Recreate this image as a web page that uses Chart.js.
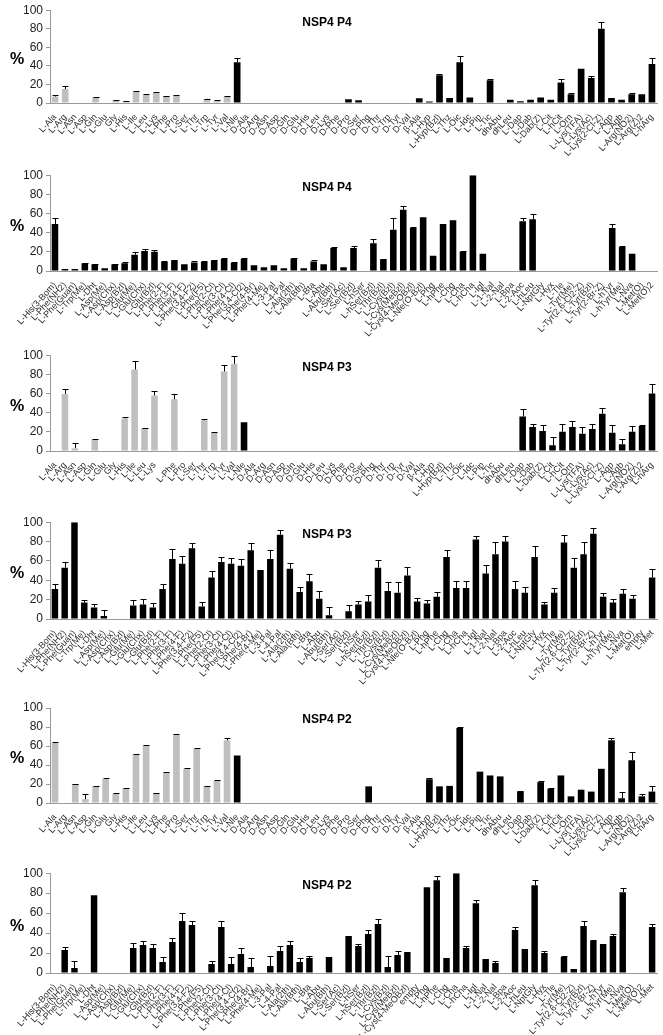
<!DOCTYPE html>
<html>
<head>
<meta charset="utf-8">
<script src="https://cdn.jsdelivr.net/npm/chart.js@4/dist/chart.umd.min.js"></script>
<style>
  html, body { margin: 0; padding: 0; background: #fff; }
  #wrap { position: relative; width: 663px; height: 1035px; }
  .panel { position: absolute; left: 0; width: 663px; }
</style>
</head>
<body>
<div id="wrap"></div>
<script>
// Category lists
const labelsNatural = ['L-Ala','L-Arg','L-Asn','L-Asp','L-Gln','L-Glu','Gly','L-His','L-Ile','L-Leu','L-Lys','L-Phe','L-Pro','L-Ser','L-Thr','L-Trp','L-Tyr','L-Val','L-Nle',
  'D-Ala','D-Arg','D-Asn','D-Asp','D-Gln','D-Glu','D-His','D-Leu','D-Lys','D-Phe','D-Pro','D-Ser','D-Phg','D-Thr','D-Trp','D-Tyr','D-Val',
  'β-Ala','L-Hyp','L-Hyp(Bzl)','L-Thz','L-Oic','L-Idc','L-Pip','L-Tic','dhAbu','dhLeu','L-Dap','L-Dab','L-Dab(Z)','L-Cit','L-hCit','L-Orn',
  'L-Lys(TFA)','L-Lys(Ac)','L-Lys(2-Cl-Z)','L-Agp','L-Agb','L-Arg(NO2)','L-Arg(Z)2','L-hArg'];
// P3 natural panel has an unlabeled slot after L-Lys
const labelsNaturalP3 = ['L-Ala','L-Arg','L-Asn','L-Asp','L-Gln','L-Glu','Gly','L-His','L-Ile','L-Leu','L-Lys','','L-Phe','L-Pro','L-Ser','L-Thr','L-Trp','L-Tyr','L-Val','L-Nle',
  'D-Ala','D-Arg','D-Asn','D-Asp','D-Gln','D-Glu','D-His','D-Leu','D-Lys','D-Phe','D-Pro','D-Ser','D-Phg','D-Thr','D-Trp','D-Tyr','D-Val',
  'β-Ala','L-Hyp','L-Hyp(Bzl)','L-Thz','L-Oic','L-Idc','L-Pip','L-Tic','dhAbu','dhLeu','L-Dap','L-Dab','L-Dab(Z)','L-Cit','L-hCit','L-Orn',
  'L-Lys(TFA)','L-Lys(Ac)','L-Lys(2-Cl-Z)','L-Agp','L-Agb','L-Arg(NO2)','L-Arg(Z)2','L-hArg'];
const labelsUnnatural = ['L-His(3-Bom)','L-Phe(NH2)','L-Phe(Guan)','L-Trp(Me)','L-Dht','L-Asp(Me)','L-Asp(Chx)','L-Asp(Bzl)','L-Glu(Me)','L-Glu(Chx)','L-Glu(Bzl)',
  'L-Phe(2-F)','L-Phe(3-F)','L-Phe(4-F)','L-Phe(3,4-F2)','L-Phe(F5)','L-Phe(2-Cl)','L-Phe(3-Cl)','L-Phe(4-Cl)','L-Phe(3,4-Cl2)','L-Phe(4-Br)','L-Phe(4-Me)',
  'L-3-Pal','L-4-Pal','L-Ala(2th)','L-Ala(Bth)','L-Bta','L-Abu','L-Abu(Bth)','L-Ser(Ac)','L-Ser(Bzl)','L-hSer','L-hSer(Bzl)','L-Thr(Bzl)',
  'L-Cys(Bzl)','L-Cys(MeBzl)','L-Cys(4-MeOBzl)','L-Nle(O-Bzl)','L-Phg','L-hPhe','L-Chg','L-Cha','L-hCha','L-Igl','L-1-Nal','L-2-Nal','L-Bpa',
  'L-2-Aoc','L-hLeu','L-NptGly','L-Hyx','L-Tle','L-Tyr(Me)','L-Tyr(2,6-Cl2-Z)','L-Tyr(Bzl)','L-Tyr(2-Br-Z)','L-hTyr','L-hTyr(Me)','L-Nva','L-Met(O)','L-Met(O)2'];
const labelsUnnaturalP3 = labelsUnnatural.slice(0, 60).concat(['empty', 'L-Met']);
const labelsUnnaturalP2 = labelsUnnatural.slice(0, 37).concat(['empty'], labelsUnnatural.slice(38), ['L-Met']);

const yTicks = [0, 20, 40, 60, 80, 100];

// NSP4 P4, natural set
const p4NatValues = [7,15,0,0,6,0,3,2,12,8.5,11,7.5,8,0,0,4.5,2.5,7,44,
  0,0,0,0,0,0,0,0,0,0,4,3,0,0,0,0,0,
  5,1.5,30,5.5,44,6,0,24.5,0,3.5,2,3.5,6,3.5,22,9.5,37,27,80,5.5,3.5,9.5,9.5,42];
const p4NatSD = [2,3,0,0,0.5,0,0.5,0.3,0.5,1,1,0.5,0.5,0,0,0.3,0.3,0.5,4,
  0,0,0,0,0,0,0,0,0,0,0,0,0,0,0,0,0,
  0,0,1,0,7,0,0,1.5,0,0,0,0,0,0,4,1.5,0,2,7,0,0,1.5,0,7];

// NSP4 P4, unnatural set
const p4UnnValues = [49,2,2,8,7,3,7,8,17,21,20,9.5,11,7,9,9.5,11,12.5,8.5,12.5,6,4,6,3,13,3,10,7,24,
  4,24,0,29,12,43,64,45,56,16,49,53,20,100,18,0,0,0,52,54,0,0,0,0,0,0,0,45,25,18,0,0];
const p4UnnSD = [6,0,0,0.5,0.5,0,0.5,1.5,3,2,2,0.5,1,0,1,0.5,0.5,1,0.5,1.5,0,0,0,0,0.5,0,1,0,1,
  0,2,0,4,0.5,12,4,1,0,0,0,0,1,0,0,0,0,0,3,5,0,0,0,0,0,0,0,4,1,0,0,0];

// NSP4 P3, natural set
const p3NatValues = [0,59.5,3,0,12,0,0,34,85,24,58,0,54,0,0,32,19,83,91,30,
  0,0,0,0,0,0,0,0,0,0,0,0,0,0,0,0,0,
  0,0,0,0,0,0,0,0,0,0,36,25,21,6,20,25,18,23,39,19,7,20,26,60];
const p3NatSD = [0,5.5,5,0,1,0,0,1,9,0.5,5,0,6,0,0,1,0.5,7,8,0,
  0,0,0,0,0,0,0,0,0,0,0,0,0,0,0,0,0,
  0,0,0,0,0,0,0,0,0,0,8,3,6,9,8,6,7,5,6,8,6,6,1,10];

// NSP4 P3, unnatural set
const p3UnnValues = [31,53,100,17,12,3,0,0,14,15,12,31,62,57,73,13,43,59,57,55,71,50,62,87,52,28,39,21,4,
  0,8,15,18,53,29,27,45,18,16,23,64,32,32,82,47,67,80,31,27,64,15,27,79,53,67,88,23,17,26,21,0,43];
const p3UnnSD = [5,6,0,3,4,6,0,0,6,6,5,5,10,8,5,5,7,5,6,7,7,1,9,5,6,5,8,8,8,
  0,6,4,7,8,9,11,9,4,4,5,7,7,7,4,9,13,6,8,6,11,3,5,8,10,13,6,4,4,5,4,0,9];

// NSP4 P2, natural set
const p2NatValues = [63,0,20,4,17.5,25,10,15.5,51,60.5,10.5,32,72,36,57,17.5,23.5,66,50,
  0,0,0,0,0,0,0,0,0,0,0,0,17.5,0,0,0,0,
  0,25,17.5,18,79,0,33,29,28,0,12,0,22,15,29,7,14,12,36,66,5,45,7,12];
const p2NatSD = [1,0,0.5,5,0.5,1,0.5,0.5,1,0.5,0.5,0.5,1,0.5,1,0.5,0.5,2,0,
  0,0,0,0,0,0,0,0,0,0,0,0,0,0,0,0,0,
  0,1,0,0,1,0,0,0,0,0,1,0,1,0.5,0,0,0,0,0,2,7,9,3,6];

// NSP4 P2, unnatural set
const p2UnnValues = [0,23,5,0,78,0,0,0,25,28,25,11,31,52,48,0,9,46,9,19,6,0,7,22,28,11,15,0,16,
  0,37,27,39,49,6,18,21,0,86,93,15,100,25,70,14,10,0,43,24,88,20,0,16,4,47,32,29,37,81,0,0,46];
const p2UnnSD = [0,3,7,0,0,0,0,0,5,4,4,5,4,8,4,0,3,6,7,6,9,0,10,5,4,4,2,0,0,
  0,0,2,4,5,11,4,0,0,0,4,0,0,2,3,0,2,0,3,0,5,2,0,1,0,5,1,0,2,4,0,0,3];

const GRAY = '#bfbfbf';
const BLACK = '#000000';
const FONT = "'Liberation Sans', Arial, sans-serif";

// Draws the upward error bars
const errorBarPlugin = {
  id: 'errorBars',
  afterDatasetsDraw(chart, args, opts) {
    const sd = opts.sd;
    if (!sd) return;
    const { ctx } = chart;
    const meta = chart.getDatasetMeta(0);
    const vals = chart.data.datasets[0].data;
    const y = chart.scales.y;
    ctx.save();
    ctx.strokeStyle = '#000';
    ctx.lineWidth = 1;
    meta.data.forEach((bar, i) => {
      if (!sd[i] || !vals[i]) return;
      const x = Math.round(bar.x) + 0.5;
      const yTop = Math.round(y.getPixelForValue(vals[i] + sd[i])) + 0.5;
      ctx.beginPath();
      ctx.moveTo(x, bar.y);
      ctx.lineTo(x, yTop);
      ctx.moveTo(x - 3, yTop);
      ctx.lineTo(x + 3, yTop);
      ctx.stroke();
    });
    ctx.restore();
  }
};

// Panel title inside the plot and the horizontal % label
const panelTextPlugin = {
  id: 'panelText',
  afterDraw(chart, args, opts) {
    const { ctx, chartArea } = chart;
    ctx.save();
    ctx.fillStyle = '#000';
    ctx.textAlign = 'center';
    ctx.textBaseline = 'middle';
    ctx.font = 'bold 12px ' + FONT;
    ctx.fillText(opts.title, 327, chartArea.top + 12);
    ctx.font = 'bold 16px ' + FONT;
    ctx.fillText('%', 17, (chartArea.top + chartArea.bottom) / 2 + 3);
    ctx.restore();
  }
};

function makePanel(cfg) {
  const div = document.createElement('div');
  div.className = 'panel';
  div.style.top = cfg.top + 'px';
  div.style.height = cfg.height + 'px';
  const canvas = document.createElement('canvas');
  div.appendChild(canvas);
  document.getElementById('wrap').appendChild(div);

  const colors = cfg.labels.map((_, i) => i < cfg.grayCount ? GRAY : BLACK);

  new Chart(canvas, {
    type: 'bar',
    data: {
      labels: cfg.labels,
      datasets: [{ data: cfg.values, backgroundColor: colors, barPercentage: 0.66, categoryPercentage: 1 }]
    },
    options: {
      responsive: true,
      maintainAspectRatio: false,
      animation: false,
      layout: { padding: { top: cfg.padTop, right: 6, left: 0, bottom: 0 } },
      plugins: {
        legend: { display: false },
        tooltip: { enabled: false },
        errorBars: { sd: cfg.sd },
        panelText: { title: cfg.title }
      },
      scales: {
        x: {
          grid: { display: false },
          border: { color: '#9a9a9a' },
          ticks: { autoSkip: false, minRotation: 48, maxRotation: 48, color: '#2a2a2a', padding: 1, font: { family: FONT, size: 9 } },
          afterFit: s => { s.height = cfg.xHeight; }
        },
        y: {
          min: 0, max: 100,
          afterBuildTicks: s => { s.ticks = yTicks.map(v => ({ value: v })); },
          grid: { drawOnChartArea: false, tickLength: 4, color: '#9a9a9a' },
          border: { color: '#9a9a9a' },
          ticks: { color: '#222', padding: 3, font: { family: FONT, size: 12 } },
          afterFit: s => { s.width = 50; }
        }
      }
    },
    plugins: [errorBarPlugin, panelTextPlugin]
  });
}

makePanel({ top: 0, height: 163, padTop: 5, xHeight: 60, title: 'NSP4 P4', labels: labelsNatural, values: p4NatValues, sd: p4NatSD, grayCount: 18 });
makePanel({ top: 165, height: 176, padTop: 6, xHeight: 70, title: 'NSP4 P4', labels: labelsUnnatural, values: p4UnnValues, sd: p4UnnSD, grayCount: 0 });
makePanel({ top: 345, height: 166, padTop: 9, xHeight: 60, title: 'NSP4 P3', labels: labelsNaturalP3, values: p3NatValues, sd: p3NatSD, grayCount: 19 });
makePanel({ top: 512, height: 175, padTop: 7, xHeight: 68, title: 'NSP4 P3', labels: labelsUnnaturalP3, values: p3UnnValues, sd: p3UnnSD, grayCount: 0 });
makePanel({ top: 690, height: 173, padTop: 18, xHeight: 60, title: 'NSP4 P2', labels: labelsNatural, values: p2NatValues, sd: p2NatSD, grayCount: 18 });
makePanel({ top: 863, height: 172, padTop: 10, xHeight: 62, title: 'NSP4 P2', labels: labelsUnnaturalP2, values: p2UnnValues, sd: p2UnnSD, grayCount: 0 });
</script>
</body>
</html>
